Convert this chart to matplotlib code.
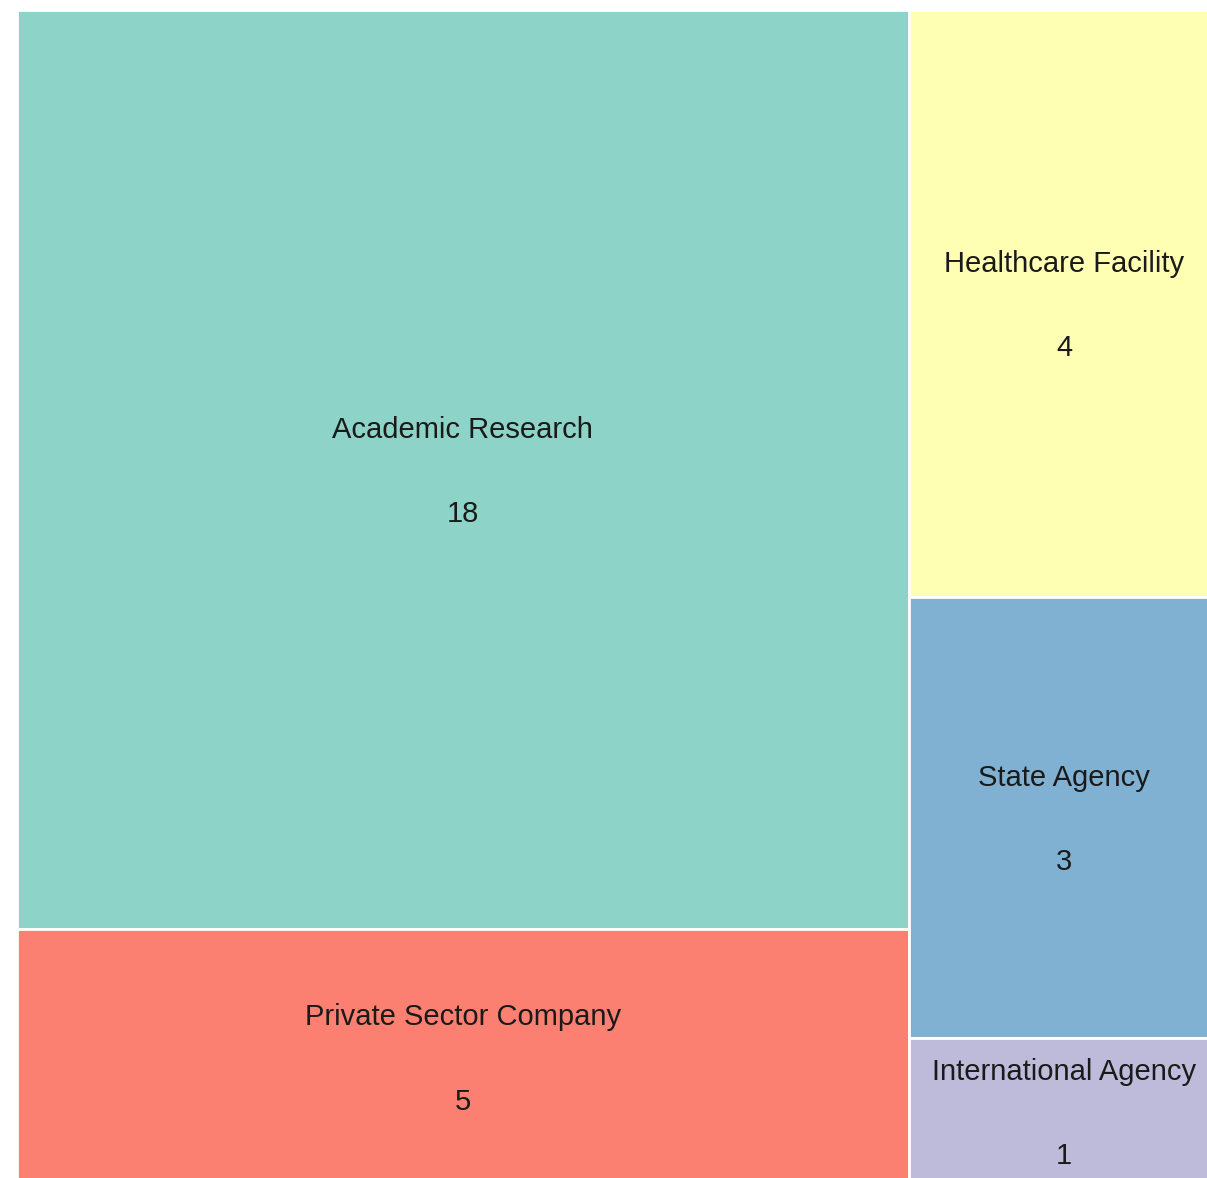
import matplotlib
matplotlib.use("Agg")
import matplotlib.pyplot as plt
from matplotlib.patches import Rectangle

labels = ["Academic Research", "Private Sector Company", "Healthcare Facility", "State Agency", "International Agency"]
values = [18, 5, 4, 3, 1]
colors = ["#8dd3c7", "#fb8072", "#ffffb3", "#80b1d3", "#bebada"]
columns = [[0, 1], [2, 3, 4]]

plt.rcParams['font.family'] = ['Liberation Sans', 'DejaVu Sans']

fig = plt.figure(figsize=(12.07, 11.78), dpi=100)
W, H = 1203.0, 1175.0
ax = fig.add_axes([16.5 / 1207, (1178 - 1184.5) / 1178, W / 1207, H / 1178])
ax.set_xlim(0, W)
ax.set_ylim(H, 0)
ax.axis('off')

total = sum(values)
x0 = 0.0
for col in columns:
    csum = sum(values[i] for i in col)
    cw = W * csum / total
    y0 = 0.0
    for i in col:
        ch = H * values[i] / csum
        ax.add_patch(Rectangle((x0, y0), cw, ch, facecolor=colors[i],
                               edgecolor='white', linewidth=2.0))
        cx, cy = x0 + cw / 2, y0 + ch / 2
        ax.text(cx, cy - 39.5, labels[i], ha='center', va='center',
                fontsize=21, color='#1a1a1a')
        ax.text(cx, cy + 45, str(values[i]), ha='center', va='center',
                fontsize=21, color='#1a1a1a')
        y0 += ch
    x0 += cw

fig.savefig("out.png", dpi=100)
